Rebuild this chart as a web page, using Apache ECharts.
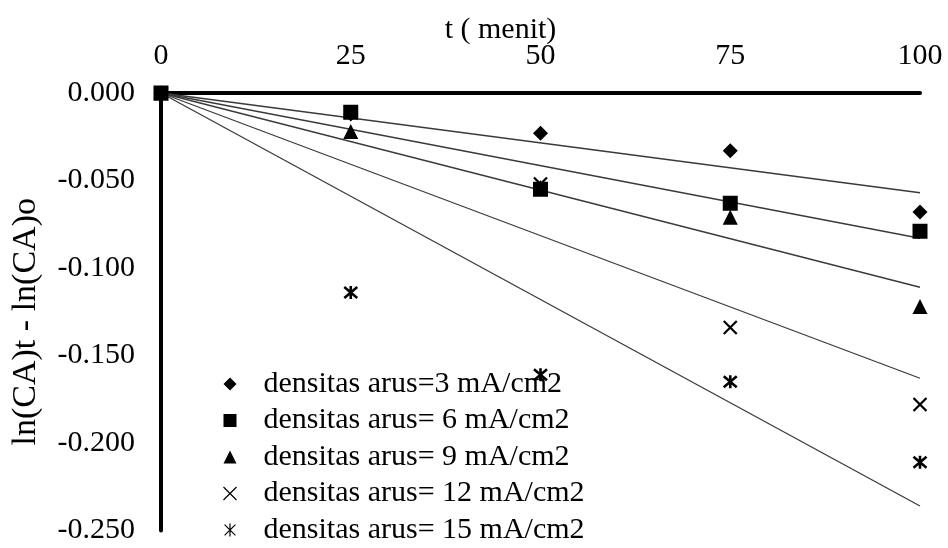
<!DOCTYPE html>
<html>
<head>
<meta charset="utf-8">
<script src="https://cdn.jsdelivr.net/npm/echarts@6/dist/echarts.min.js"></script>
<style>
  html, body { margin: 0; padding: 0; background: #fff; }
  #chart { width: 948px; height: 548px; }
</style>
</head>
<body>
<div id="chart"></div>
<script>
// Sampling times (minutes)
const times = [0, 25, 50, 75, 100];

// ln(CA)t - ln(CA)o for each current density
const d3  = [0, -0.012, -0.023, -0.033, -0.068];
const d6  = [0, -0.011, -0.055, -0.063, -0.079];
const d9  = [0, -0.022, -0.054, -0.071, -0.122];
const d12 = [0, -0.011, -0.052, -0.134, -0.178];
const d15 = [0, -0.114, -0.161, -0.165, -0.211];

// Linear trend lines through the origin: value reached at t = 100
const trendEnd = [-0.057, -0.083, -0.111, -0.163, -0.236];
const trendT = [0, 100];

const seriesNames = [
  'densitas arus=3 mA/cm2',
  'densitas arus= 6 mA/cm2',
  'densitas arus= 9 mA/cm2',
  'densitas arus= 12 mA/cm2',
  'densitas arus= 15 mA/cm2'
];

const yTicks = { min: -0.25, max: 0, step: 0.05 };
const xTicks = { min: 0, max: 100, step: 25 };

const FONT = '"Liberation Serif", "Times New Roman", serif';
const crossPath = 'path://M0,0L10,10M10,0L0,10';
const starPath = 'path://M0,0L10,10M10,0L0,10M5,-1L5,11';

const seriesData = [d3, d6, d9, d12, d15];
const markers = [
  { symbol: 'diamond', size: 15, style: { color: '#000', opacity: 1 } },
  { symbol: 'rect', size: 15, style: { color: '#000', opacity: 1 } },
  { symbol: 'triangle', size: 15, style: { color: '#000', opacity: 1 } },
  { symbol: crossPath, size: 13, style: { color: 'none', borderColor: '#000', borderWidth: 2.2, opacity: 1 } },
  { symbol: starPath, size: 13, style: { color: 'none', borderColor: '#000', borderWidth: 2.6, opacity: 1 } }
];

const series = [];
trendEnd.forEach(function (v) {
  series.push({
    type: 'line',
    data: [[trendT[0], 0], [trendT[1], v]],
    showSymbol: false,
    symbol: 'none',
    silent: true,
    lineStyle: { color: '#3a3a3a', width: 1.3 },
    z: 1
  });
});
seriesData.forEach(function (vals, i) {
  series.push({
    name: seriesNames[i],
    type: 'scatter',
    data: times.map(function (t, j) { return [t, vals[j]]; }),
    symbol: markers[i].symbol,
    symbolSize: markers[i].size,
    itemStyle: markers[i].style,
    z: 3
  });
});

// Legend entries; the line-drawn markers use a thinner stroke in the legend
const legendData = seriesNames.map(function (n, i) {
  if (i >= 3) {
    return { name: n, itemStyle: { color: 'none', borderColor: '#000', borderWidth: 1.2, opacity: 1 } };
  }
  return { name: n };
});

const chart = echarts.init(document.getElementById('chart'), null, { renderer: 'canvas' });
chart.setOption({
  animation: false,
  backgroundColor: '#fff',
  textStyle: { fontFamily: FONT, color: '#000' },
  grid: { left: 161, top: 93, width: 759, height: 437.5, containLabel: false },
  legend: {
    data: legendData,
    orient: 'vertical',
    left: 216,
    top: 364,
    height: 300,
    itemWidth: 13,
    itemHeight: 13,
    itemGap: 6.5,
    textStyle: { fontFamily: FONT, fontSize: 30, lineHeight: 30, color: '#000', padding: [0, 0, 0, 22] },
    selectedMode: false
  },
  xAxis: {
    type: 'value',
    position: 'top',
    min: xTicks.min,
    max: xTicks.max,
    interval: xTicks.step,
    name: 't ( menit)',
    nameLocation: 'middle',
    nameGap: 48,
    nameMoveOverlap: false,
    nameTextStyle: { fontFamily: FONT, fontSize: 30, color: '#000', padding: [0, 80, 0, 0] },
    axisLine: { onZero: false, lineStyle: { color: '#000', width: 4 } },
    axisTick: { show: false },
    splitLine: { show: false },
    axisLabel: { fontFamily: FONT, fontSize: 30, color: '#000', margin: 22 }
  },
  yAxis: {
    type: 'value',
    min: yTicks.min,
    max: yTicks.max,
    interval: yTicks.step,
    name: 'ln(CA)t - ln(CA)o',
    nameLocation: 'middle',
    nameGap: 118,
    nameRotate: 90,
    nameMoveOverlap: false,
    nameTextStyle: { fontFamily: FONT, fontSize: 34, color: '#000', padding: [0, 20, 0, 0] },
    axisLine: { onZero: false, lineStyle: { color: '#000', width: 4 } },
    axisTick: { show: false },
    splitLine: { show: false },
    axisLabel: {
      fontFamily: FONT, fontSize: 30, color: '#000', margin: 26,
      formatter: function (v) { return v.toFixed(3); }
    }
  },
  series: series
});
</script>
</body>
</html>
